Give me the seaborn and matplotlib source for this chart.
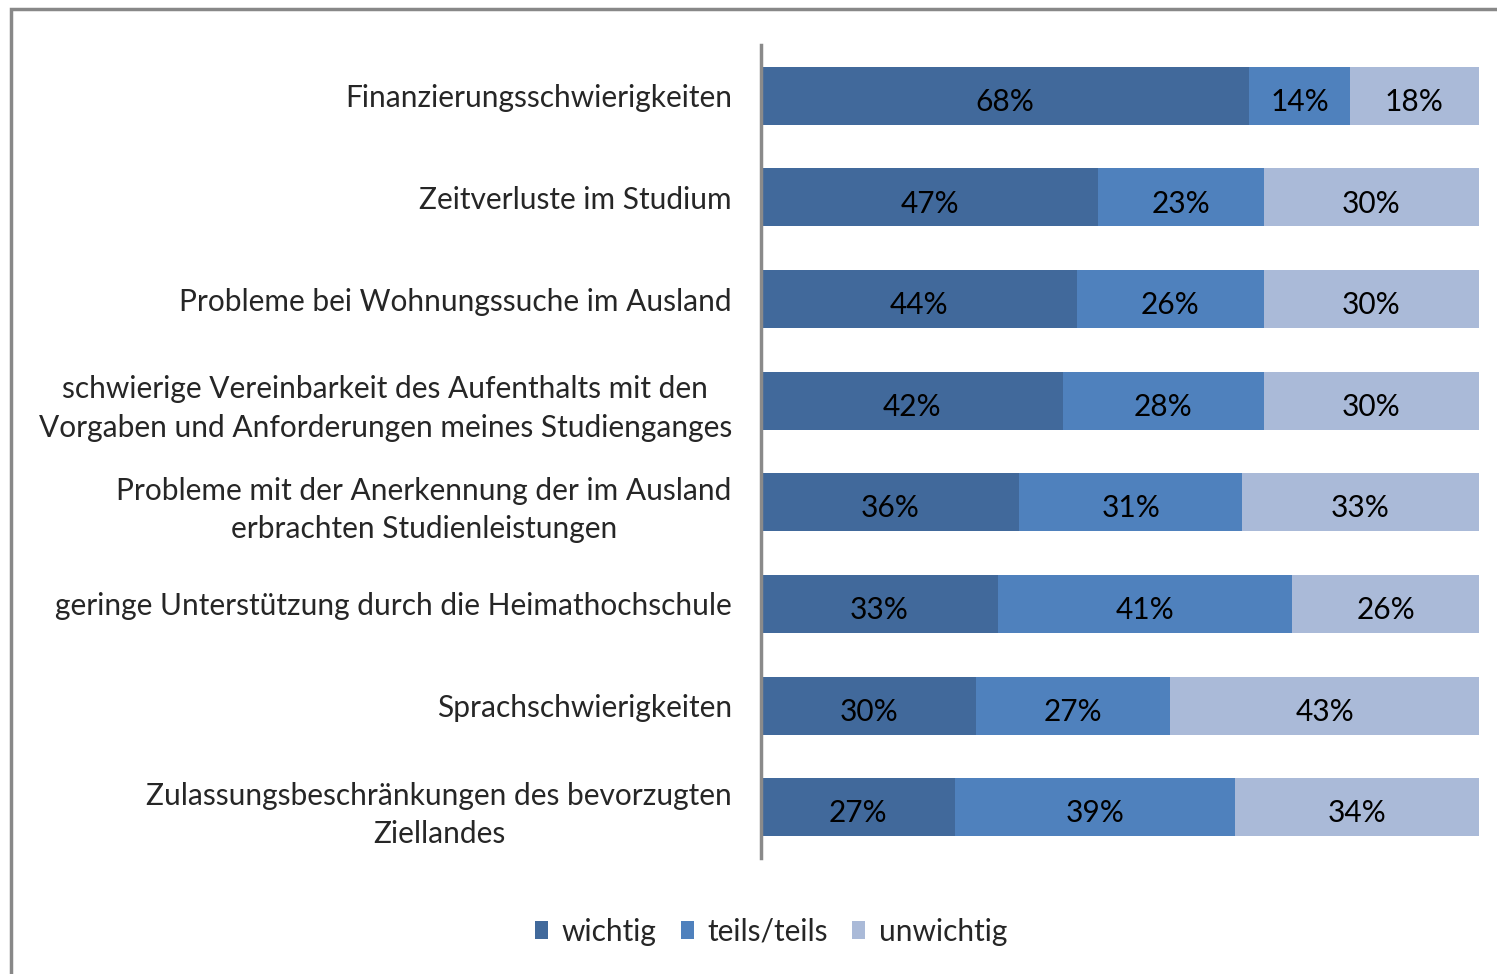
import matplotlib as mtl
mtl.use('Agg')
import matplotlib.pyplot as plt
import numpy as np
import pandas as pd
import seaborn as sns
from matplotlib.patches import Rectangle, Patch

# data (percent)
categories = [
    "Finanzierungsschwierigkeiten",
    "Zeitverluste im Studium",
    "Probleme bei Wohnungssuche im Ausland",
    "schwierige Vereinbarkeit des Aufenthalts mit den\nVorgaben und Anforderungen meines Studienganges",
    "Probleme mit der Anerkennung der im Ausland\nerbrachten Studienleistungen",
    "geringe Unterstützung durch die Heimathochschule",
    "Sprachschwierigkeiten",
    "Zulassungsbeschränkungen des bevorzugten\nZiellandes",
]
wichtig = [68, 47, 44, 42, 36, 33, 30, 27]
teils = [14, 23, 26, 28, 31, 41, 27, 39]
unwichtig = [18, 30, 30, 30, 33, 26, 43, 34]
series_names = ["wichtig", "teils/teils", "unwichtig"]
colors = ["#41699b", "#4f81bd", "#aabad8"]

sns.set_theme(style="white")
plt.rcParams['font.family'] = ['Lato', 'DejaVu Sans']
FS = 21.5

df = pd.DataFrame({"cat": categories, "w": wichtig, "t": teils, "u": unwichtig})
df["c1"] = df["w"]
df["c2"] = df["w"] + df["t"]
df["c3"] = df["w"] + df["t"] + df["u"]

fig = plt.figure(figsize=(14.97, 9.74), dpi=100)
ax = fig.add_axes([761 / 1497, 1 - 858 / 974, (1479 - 761) / 1497, (858 - 45) / 974])

# stacked bars: draw cumulative totals back to front
for col, c in zip(["c3", "c2", "c1"], colors[::-1]):
    sns.barplot(data=df, x=col, y="cat", orient="h", color=c, width=0.57,
                saturation=1, ax=ax, linewidth=0)

# value labels centered in each segment
for i in range(len(categories)):
    left = 0
    for v in (wichtig[i], teils[i], unwichtig[i]):
        ax.text(left + v / 2, i + 0.06, f"{v}%", ha="center", va="center",
                fontsize=FS, color="black")
        left += v

ax.set_xlim(0, 100)
ax.set_ylim(len(categories) - 0.5, -0.5)
ax.set_xlabel("")
ax.set_ylabel("")
ax.set_xticks([])
ax.set_yticks(range(len(categories)))
ax.set_yticklabels(categories, fontsize=FS, multialignment="center", linespacing=1.45)
ax.tick_params(axis="y", length=0, pad=21)
for s in ["top", "right", "bottom"]:
    ax.spines[s].set_visible(False)
ax.spines["left"].set_color("#8a8a8a")
ax.spines["left"].set_linewidth(2.5)

handles = [Patch(facecolor=c, edgecolor="none") for c in colors]
fig.legend(handles, series_names, loc="center", bbox_to_anchor=(771 / 1497, 1 - 932 / 974),
           ncol=3, frameon=False, fontsize=FS, handlelength=0.45, handleheight=0.55,
           handletextpad=0.45, columnspacing=0.8)

# chart border
fig.add_artist(Rectangle((11 / 1497, -0.05), 1.2, 1 - 9 / 974 + 0.05, transform=fig.transFigure,
                         fill=False, edgecolor="#888888", linewidth=2.5, clip_on=False))

fig.savefig("out.png", dpi=100, facecolor="white")
